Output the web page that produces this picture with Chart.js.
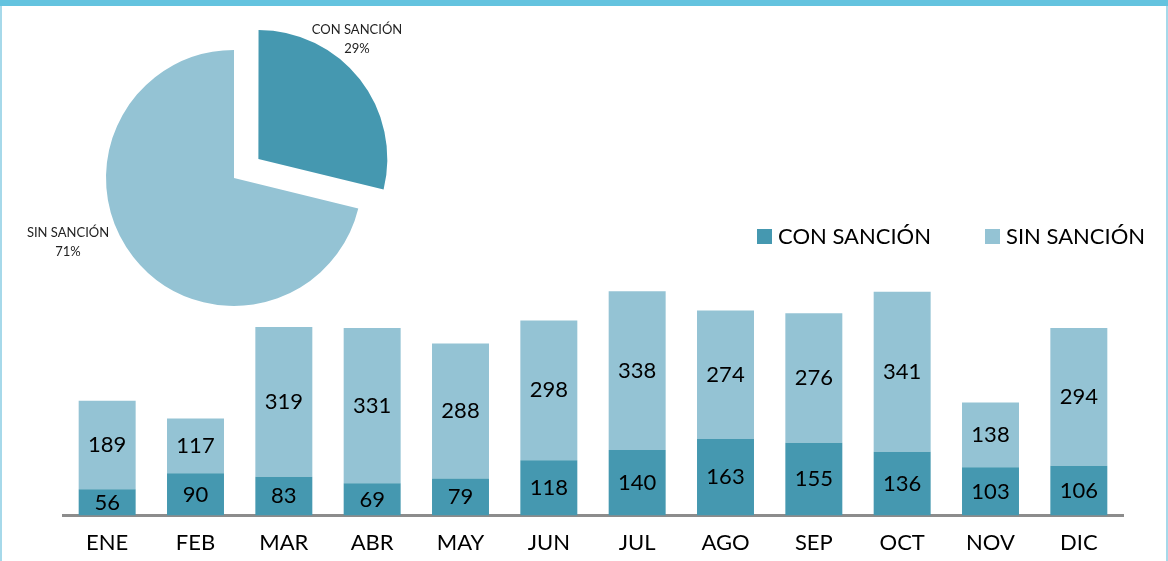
<!DOCTYPE html>
<html>
<head>
<meta charset="utf-8">
<script src="https://cdn.jsdelivr.net/npm/chart.js@4/dist/chart.umd.min.js"></script>
<style>
  html, body { margin: 0; padding: 0; background: #fff; }
  #marco { position: relative; width: 1168px; height: 561px; overflow: hidden; background: #fff; }
  #franja { position: absolute; left: 0; top: 0; width: 1168px; height: 6px; background: #64c3df; z-index: 3; }
  #bordeIzq { position: absolute; left: 0; top: 6px; width: 2px; height: 555px; background: #a6d9ea; z-index: 3; }
  #bordeDer { position: absolute; left: 1166px; top: 6px; width: 2px; height: 555px; background: #a6d9ea; z-index: 3; }
  #barras { position: absolute; left: 0; top: 0; z-index: 1; }
  #torta { position: absolute; left: 0; top: 8px; z-index: 2; }
</style>
</head>
<body>
<div id="marco">
  <div id="franja"></div>
  <div id="bordeIzq"></div>
  <div id="bordeDer"></div>
  <canvas id="barras" width="1168" height="577"></canvas>
  <canvas id="torta" width="468" height="340"></canvas>
</div>
<script>
const meses = ["ENE", "FEB", "MAR", "ABR", "MAY", "JUN", "JUL", "AGO", "SEP", "OCT", "NOV", "DIC"];
const conSancion = [56, 90, 83, 69, 79, 118, 140, 163, 155, 136, 103, 106];
const sinSancion = [189, 117, 319, 331, 288, 298, 338, 274, 276, 341, 138, 294];
const etiquetas = ["CON SANCIÓN", "SIN SANCIÓN"];

const fuente = "Lato, 'Open Sans', sans-serif";
const colorCon = "#4598b0";
const colorSin = "#94c3d4";

const suma = arr => arr.reduce((a, b) => a + b, 0);
const totales = [suma(conSancion), suma(sinSancion)];

// Etiquetas de valor en el centro de cada segmento
const etiquetasBarras = {
  id: "etiquetasBarras",
  afterDatasetsDraw(chart) {
    const c = chart.ctx;
    c.save();
    c.font = "22px " + fuente;
    c.fillStyle = "#000";
    c.textAlign = "center";
    c.textBaseline = "middle";
    chart.data.datasets.forEach((ds, i) => {
      chart.getDatasetMeta(i).data.forEach((barra, j) => {
        const { x, y, base } = barra.getProps(["x", "y", "base"], true);
        c.fillText(ds.data[j], x, (y + base) / 2);
      });
    });
    c.restore();
  }
};

// Leyenda dibujada a mano
const leyenda = {
  id: "leyenda",
  afterDraw(chart) {
    const c = chart.ctx;
    const posX = [757, 985];
    c.save();
    c.font = "22px " + fuente;
    c.textBaseline = "middle";
    chart.data.datasets.forEach((ds, i) => {
      c.fillStyle = ds.backgroundColor;
      c.fillRect(posX[i], 229, 15, 15);
      c.fillStyle = "#000";
      c.fillText(ds.label, posX[i] + 21, 237);
    });
    c.restore();
  }
};

new Chart(document.getElementById("barras").getContext("2d"), {
  type: "bar",
  data: {
    labels: meses,
    datasets: [
      { label: etiquetas[0], data: conSancion, backgroundColor: colorCon, borderWidth: 0 },
      { label: etiquetas[1], data: sinSancion, backgroundColor: colorSin, borderWidth: 0 }
    ]
  },
  options: {
    responsive: false,
    animation: false,
    layout: { padding: { left: 63, right: 45, top: 281, bottom: 7 } },
    datasets: { bar: { categoryPercentage: 1, barPercentage: 0.645 } },
    plugins: { legend: { display: false }, tooltip: { enabled: false } },
    scales: {
      x: {
        stacked: true,
        grid: { display: false, drawTicks: false },
        border: { display: true, color: "#8c8c8c", width: 3 },
        ticks: { color: "#000", font: { family: fuente, size: 22 }, padding: 14 }
      },
      y: { stacked: true, display: false, min: 0, max: 500 }
    }
  },
  plugins: [etiquetasBarras, leyenda]
});

// Textos del gráfico circular
const textosTorta = {
  id: "textosTorta",
  afterDraw(chart) {
    const c = chart.ctx;
    const pos = [[357, 22, 41], [68, 225, 244]];
    c.save();
    c.font = "13px " + fuente;
    c.fillStyle = "#222";
    c.textAlign = "center";
    c.textBaseline = "middle";
    chart.data.labels.forEach((lab, i) => {
      const pct = Math.round(totales[i] / suma(totales) * 100) + "%";
      c.fillText(lab, pos[i][0], pos[i][1]);
      c.fillText(pct, pos[i][0], pos[i][2]);
    });
    c.restore();
  }
};

new Chart(document.getElementById("torta").getContext("2d"), {
  type: "pie",
  data: {
    labels: etiquetas,
    datasets: [{
      data: totales,
      backgroundColor: [colorCon, colorSin],
      borderWidth: 0,
      offset: [124, 0]
    }]
  },
  options: {
    responsive: false,
    animation: false,
    radius: 128,
    plugins: { legend: { display: false }, tooltip: { enabled: false } }
  },
  plugins: [textosTorta]
});
</script>
</body>
</html>
